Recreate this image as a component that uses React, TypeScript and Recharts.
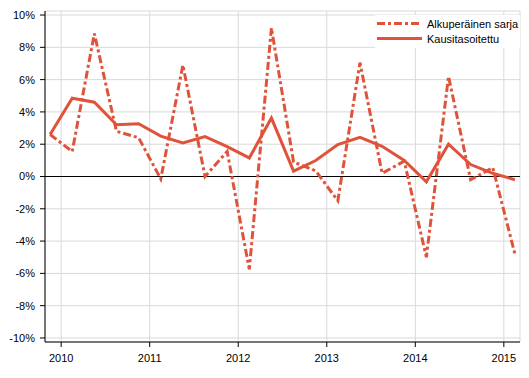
import {
  LineChart,
  Line,
  XAxis,
  YAxis,
  CartesianGrid,
  ReferenceLine,
  Legend,
} from "recharts";

// quarterly points, 2009Q4 .. 2015Q1
const quarters = [
  "2009Q4",
  "2010Q1", "2010Q2", "2010Q3", "2010Q4",
  "2011Q1", "2011Q2", "2011Q3", "2011Q4",
  "2012Q1", "2012Q2", "2012Q3", "2012Q4",
  "2013Q1", "2013Q2", "2013Q3", "2013Q4",
  "2014Q1", "2014Q2", "2014Q3", "2014Q4",
  "2015Q1",
];

const original = [
  2.6, 1.55, 8.85, 2.8, 2.4, -0.15, 6.9, 0.0, 1.55, -5.75, 9.2, 0.9, 0.35,
  -1.5, 7.05, 0.2, 0.95, -5.0, 6.2, -0.2, 0.55, -4.8,
];

const seasonal = [
  2.6, 4.85, 4.6, 3.2, 3.27, 2.5, 2.08, 2.47, 1.85, 1.15, 3.62, 0.33, 0.99,
  1.98, 2.43, 1.87, 0.99, -0.33, 2.0, 0.74, 0.2, -0.2,
];

const years = ["2010", "2011", "2012", "2013", "2014", "2015"];
const yTicks = [-10, -8, -6, -4, -2, 0, 2, 4, 6, 8, 10];

const SERIES_ORIGINAL = "Alkuperäinen sarja";
const SERIES_SEASONAL = "Kausitasoitettu";

const COLOR = "#e0533b";
const FONT = '"Liberation Sans", Arial, sans-serif';

const data = quarters.map((q, i) => ({
  i,
  quarter: q,
  original: original[i],
  seasonal: seasonal[i],
}));

// year ticks sit at the start of each year, half a quarter before its Q1 point
const yearTicks = years.map((y) => quarters.indexOf(`${y}Q1`) - 0.5);

function LegendBox() {
  const rows = [
    { label: SERIES_ORIGINAL, dash: "8 3 3 3" },
    { label: SERIES_SEASONAL, dash: undefined },
  ];
  return (
    <div
      style={{
        background: "#fff",
        width: 145,
        height: 33,
        paddingTop: 1,
        boxSizing: "border-box",
        fontFamily: FONT,
        fontSize: 11,
        color: "#000",
      }}
    >
      {rows.map((r) => (
        <div
          key={r.label}
          style={{ display: "flex", alignItems: "center", height: 15 }}
        >
          <svg width={47} height={15} style={{ marginLeft: 2 }}>
            <line
              x1={0}
              y1={7.5}
              x2={45}
              y2={7.5}
              stroke={COLOR}
              strokeWidth={3}
              strokeDasharray={r.dash}
            />
          </svg>
          <span style={{ marginLeft: 3 }}>{r.label}</span>
        </div>
      ))}
    </div>
  );
}

export default function App() {
  return (
    <div
      style={{
        position: "absolute",
        left: 0,
        top: 0,
        width: 529,
        height: 378,
        background: "#fff",
      }}
    >
      <LineChart
        width={529}
        height={378}
        data={data}
        margin={{ top: 11, right: 9, bottom: 6, left: 0 }}
        style={{ fontFamily: FONT }}
      >
        <CartesianGrid stroke="#d9d9d9" strokeWidth={1} />
        <XAxis
          dataKey="i"
          type="number"
          domain={[-0.23, 21.23]}
          ticks={yearTicks}
          tickFormatter={(v) => years[yearTicks.indexOf(v)] ?? ""}
          allowDataOverflow
          height={30}
          tick={{ fill: "#000", fontSize: 11 }}
          axisLine={{ stroke: "#000" }}
          tickLine={{ stroke: "#000" }}
          tickSize={5}
          tickMargin={7}
        />
        <YAxis
          type="number"
          domain={[-10.25, 10.25]}
          ticks={yTicks}
          tickFormatter={(v) => `${v}%`}
          allowDataOverflow
          width={45}
          tick={{ fill: "#000", fontSize: 11 }}
          axisLine={{ stroke: "#000" }}
          tickLine={{ stroke: "#000" }}
          tickSize={5}
          tickMargin={5}
        />
        <ReferenceLine y={0} stroke="#000" strokeWidth={1} />
        <Legend
          layout="horizontal"
          verticalAlign="middle"
          align="center"
          wrapperStyle={{ top: 15, left: 375, width: 145, height: 33 }}
          content={() => <LegendBox />}
        />
        <Line
          dataKey="original"
          name={SERIES_ORIGINAL}
          stroke={COLOR}
          strokeWidth={3}
          strokeDasharray="8 3 3 3"
          dot={false}
          activeDot={false}
          isAnimationActive={false}
        />
        <Line
          dataKey="seasonal"
          name={SERIES_SEASONAL}
          stroke={COLOR}
          strokeWidth={3}
          dot={false}
          activeDot={false}
          isAnimationActive={false}
        />
      </LineChart>
    </div>
  );
}
